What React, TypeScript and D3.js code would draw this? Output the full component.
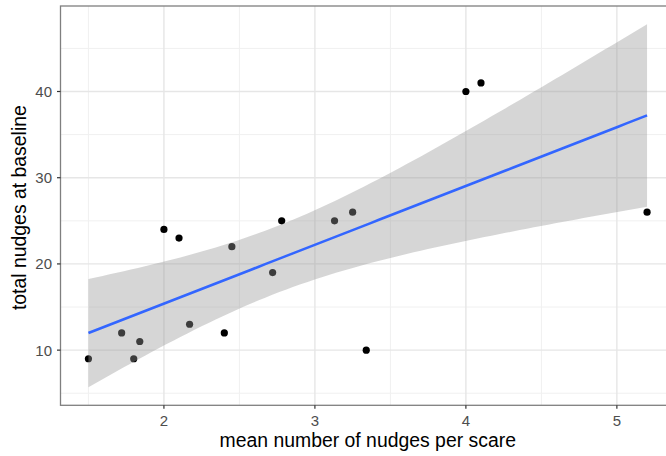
import React from "react";
import * as d3 from "d3";

const xVals = [1.5, 1.72, 1.8, 1.84, 2.0, 2.1, 2.17, 2.4, 2.45, 2.72, 2.78, 3.13, 3.25, 3.34, 4.0, 4.1, 5.2];
const yVals = [9, 12, 9, 11, 24, 23, 13, 12, 22, 19, 25, 25, 26, 10, 40, 41, 26];
const xTicks = [2, 3, 4, 5];
const xMinor = [1.5, 2.5, 3.5, 4.5];
const yTicks = [10, 20, 30, 40];
const yMinor = [5, 15, 25, 35, 45];
const xTitle = "mean number of nudges per scare";
const yTitle = "total nudges at baseline";
const T_975_DF15 = 2.131;

const W = 666, H = 456;
const left = 60.5, right = 675, top = 6, bottom = 405.3;

export default function App() {
  const n = xVals.length;
  const mx = d3.mean(xVals)!;
  const my = d3.mean(yVals)!;
  const sxx = d3.sum(xVals, (x) => (x - mx) ** 2);
  const sxy = d3.sum(xVals.map((x, i) => (x - mx) * (yVals[i] - my)));
  const b = sxy / sxx;
  const a = my - b * mx;
  const sse = d3.sum(xVals.map((x, i) => (yVals[i] - (a + b * x)) ** 2));
  const s = Math.sqrt(sse / (n - 2));
  const [x0, x1] = d3.extent(xVals) as [number, number];
  const fit = d3.range(80).map((i) => {
    const x = x0 + ((x1 - x0) * i) / 79;
    const yh = a + b * x;
    const se = s * Math.sqrt(1 / n + (x - mx) ** 2 / sxx);
    return { x, y: yh, lo: yh - T_975_DF15 * se, hi: yh + T_975_DF15 * se };
  });
  const yLo = Math.min(d3.min(yVals)!, d3.min(fit, (d) => d.lo)!);
  const yHi = Math.max(d3.max(yVals)!, d3.max(fit, (d) => d.hi)!);
  const xr = x1 - x0, yr = yHi - yLo;
  const xs = d3.scaleLinear().domain([x0 - 0.05 * xr, x1 + 0.05 * xr]).range([left, right]);
  const ys = d3.scaleLinear().domain([yLo - 0.05 * yr, yHi + 0.05 * yr]).range([bottom, top]);

  const area = d3.area<any>().x((d) => xs(d.x)).y0((d) => ys(d.lo)).y1((d) => ys(d.hi));
  const line = d3.line<any>().x((d) => xs(d.x)).y((d) => ys(d.y));
  const font = "'Liberation Sans', Arial, Helvetica, sans-serif";

  return (
    <div style={{ position: "fixed", left: 0, top: 0 }}>
      <svg width={W} height={H} style={{ display: "block", background: "#fff" }} fontFamily={font}>
        <defs>
          <clipPath id="panel">
            <rect x={left} y={top} width={right - left} height={bottom - top} />
          </clipPath>
        </defs>
        <g clipPath="url(#panel)">
          {xMinor.map((t) => (
            <line key={"xm" + t} x1={xs(t)} x2={xs(t)} y1={top} y2={bottom} stroke="#f0f0f0" strokeWidth={1} />
          ))}
          {yMinor.map((t) => (
            <line key={"ym" + t} x1={left} x2={right} y1={ys(t)} y2={ys(t)} stroke="#f0f0f0" strokeWidth={1} />
          ))}
          {xTicks.map((t) => (
            <line key={"xg" + t} x1={xs(t)} x2={xs(t)} y1={top} y2={bottom} stroke="#e6e6e6" strokeWidth={1.4} />
          ))}
          {yTicks.map((t) => (
            <line key={"yg" + t} x1={left} x2={right} y1={ys(t)} y2={ys(t)} stroke="#e6e6e6" strokeWidth={1.4} />
          ))}
          {xVals.map((x, i) => (
            <circle key={"p" + i} cx={xs(x)} cy={ys(yVals[i])} r={3.6} fill="#000" />
          ))}
          <path d={area(fit)!} fill="#999999" fillOpacity={0.4} />
          <path d={line(fit)!} fill="none" stroke="#3366FF" strokeWidth={2.6} />
        </g>
        <rect x={left} y={top} width={right - left} height={bottom - top} fill="none" stroke="#7f7f7f" strokeWidth={1.3} />
        {xTicks.map((t) => (
          <g key={"xt" + t}>
            <line x1={xs(t)} x2={xs(t)} y1={bottom} y2={bottom + 3.5} stroke="#333" strokeWidth={1.2} />
            <text x={xs(t)} y={bottom + 20.5} textAnchor="middle" fontSize={15} fill="#4d4d4d">{t}</text>
          </g>
        ))}
        {yTicks.map((t) => (
          <g key={"yt" + t}>
            <line x1={left - 3.5} x2={left} y1={ys(t)} y2={ys(t)} stroke="#333" strokeWidth={1.2} />
            <text x={left - 8.5} y={ys(t) + 5.4} textAnchor="end" fontSize={15} fill="#4d4d4d">{t}</text>
          </g>
        ))}
        <text x={(left + right) / 2} y={446.5} textAnchor="middle" fontSize={19.4} fill="#000">{xTitle}</text>
        <text transform={`translate(26,${(top + bottom) / 2 + 2}) rotate(-90)`} textAnchor="middle" fontSize={19.4} fill="#000">{yTitle}</text>
      </svg>
    </div>
  );
}
